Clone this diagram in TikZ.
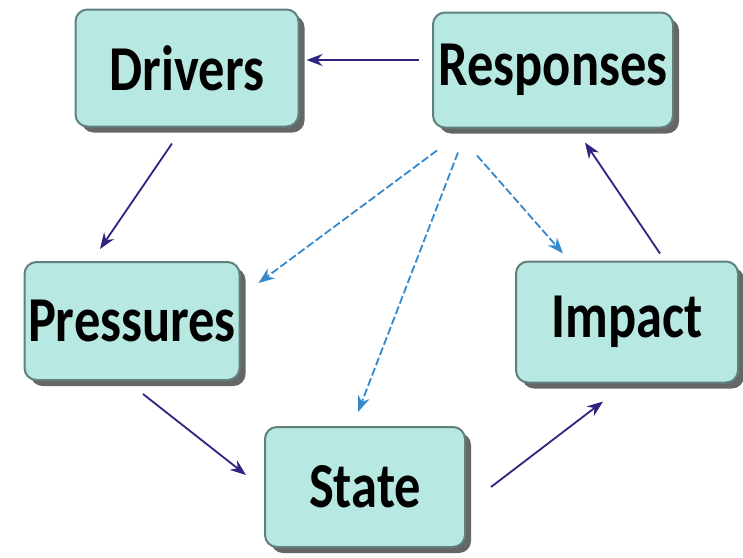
\documentclass[tikz,border=0pt]{standalone}
\usepackage{fontspec}
\setsansfont{Carlito}[FakeStretch=0.82]
\usetikzlibrary{arrows.meta,shadows}

\definecolor{boxfill}{RGB}{184,232,226}
\definecolor{boxline}{RGB}{96,128,126}
\definecolor{navy}{RGB}{44,36,128}
\definecolor{lightblue}{RGB}{52,136,204}

\begin{document}
\begin{tikzpicture}[x=0.5pt, y=-0.5pt,
	stage/.style={draw=boxline, line width=1pt, fill=boxfill, rounded corners=6pt,
		inner sep=0pt, font=\sffamily\bfseries\fontsize{32}{36}\selectfont,
		drop shadow={shadow xshift=3pt, shadow yshift=-3pt, opacity=0.75, fill=black!80}},
	flow/.style={draw=navy, line width=0.9pt, -{Stealth[length=8pt, width=6pt]}},
	reply/.style={draw=lightblue, line width=0.9pt, dashed, dash pattern=on 4pt off 1.5pt,
		-{Stealth[length=8pt, width=6pt]}}]
	\useasboundingbox (0,0) rectangle (743,557);

	\node[stage, minimum width=111.5pt, minimum height=58.5pt] (drv) at (187,68) {Drivers};
	\node[stage, minimum width=120pt, minimum height=57.5pt] (resp) at (553,70) {Responses};
	\node[stage, minimum width=107.5pt, minimum height=59pt] (pres) at (132,321) {Pressures};
	\node[stage, minimum width=100pt, minimum height=60pt] (state) at (365,487) {State};
	\node[stage, minimum width=111pt, minimum height=60.5pt] (imp) at (627,322) {Impact};

	% main cycle
	\draw[flow] ([xshift=-6.5pt, yshift=5pt]resp.west) -- ([xshift=3.5pt, yshift=4pt]drv.east);
	\draw[flow] ([xshift=-7.5pt, yshift=-8pt]drv.south) -- ([xshift=-16pt, yshift=6pt]pres.north);
	\draw[flow] ([xshift=5.5pt, yshift=-6.5pt]pres.south) -- ([xshift=-9pt, yshift=6pt]state.west);
	\draw[flow] ([xshift=12.5pt]state.east) -- ([xshift=-12pt, yshift=-9pt]imp.south);
	\draw[flow] ([xshift=16.5pt, yshift=3.5pt]imp.north) -- ([xshift=16pt, yshift=-7pt]resp.south);

	% responses
	\draw[reply] ([xshift=-58pt, yshift=-11pt]resp.south) -- ([xshift=9pt, yshift=19pt]pres.east);
	\draw[reply] ([xshift=-47.5pt, yshift=-12pt]resp.south) -- ([xshift=-3.5pt, yshift=7pt]state.north);
	\draw[reply] ([xshift=-38pt, yshift=-13.5pt]resp.south) -- ([xshift=-32pt, yshift=3.5pt]imp.north);
\end{tikzpicture}
\end{document}
